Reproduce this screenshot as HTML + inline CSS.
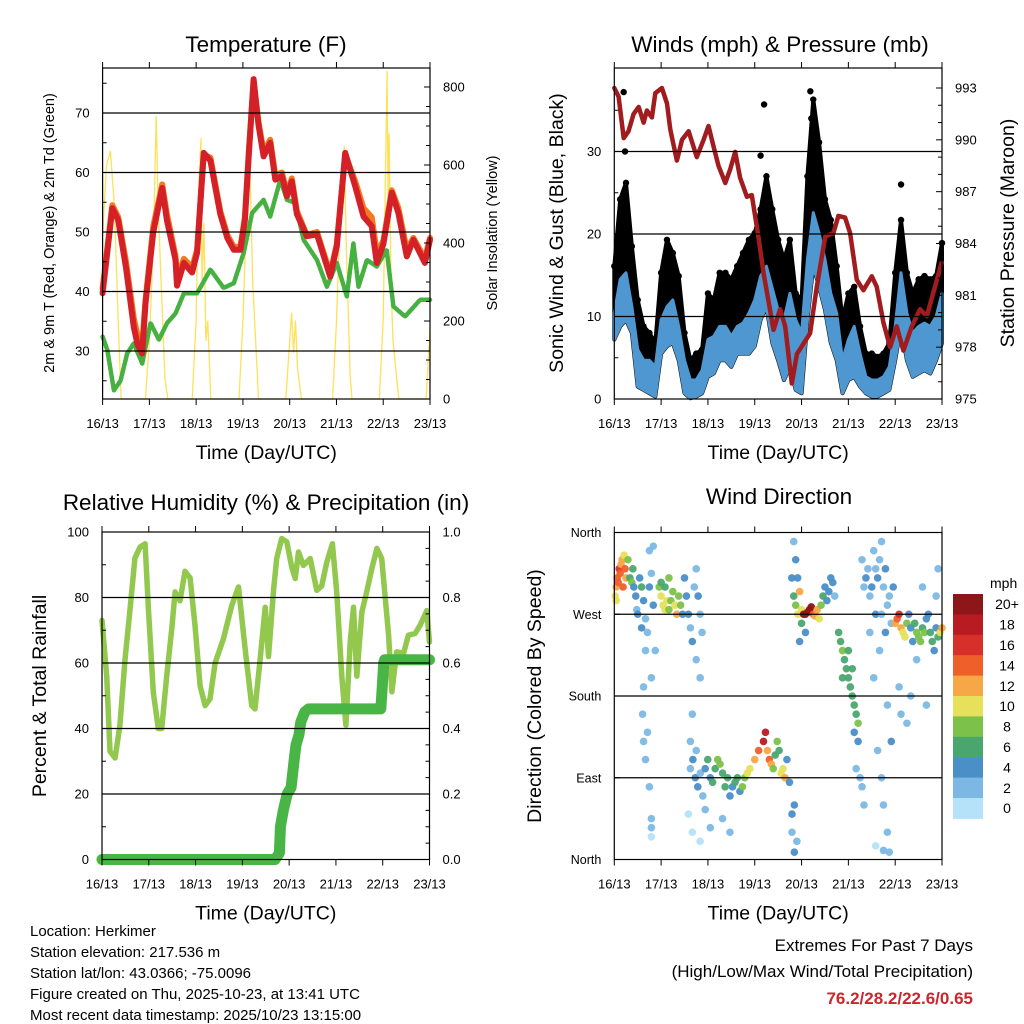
<!DOCTYPE html>
<html><head><meta charset="utf-8"><style>
html,body{margin:0;padding:0;background:#fff;}
svg{display:block;font-family:"Liberation Sans",Arial,sans-serif;}
</style></head><body>
<svg id="chart" width="1024" height="1024" viewBox="0 0 1024 1024">
<g id="marks"></g>
<g id="axes"></g>
<g font-size="15" fill="#000">
<text x="30" y="936">Location: Herkimer</text>
<text x="30" y="957">Station elevation: 217.536 m</text>
<text x="30" y="978">Station lat/lon: 43.0366; -75.0096</text>
<text x="30" y="999">Figure created on Thu, 2025-10-23, at 13:41 UTC</text>
<text x="30" y="1020">Most recent data timestamp: 2025/10/23 13:15:00</text>
</g>
<g text-anchor="end">
<text x="973" y="951" font-size="17">Extremes For Past 7 Days</text>
<text x="973" y="977" font-size="17">(High/Low/Max Wind/Total Precipitation)</text>
<text x="973" y="1004" font-size="17" font-weight="bold" fill="#c8282d">76.2/28.2/22.6/0.65</text>
</g>
</svg>
<script>
// ---------- DATA ----------
const dayLabels = ["16/13","17/13","18/13","19/13","20/13","21/13","22/13","23/13"];
const tempHours = [0,5,8,12,16,18,20.3,22,26,30.6,33,37.4,38.2,41.7,45.9,48.5,51.9,55.3,60.4,64,67.3,70.7,73,75,77.5,80,82.6,86,88.6,92,94.6,97.1,99.7,104.8,110,116.8,120.2,124.5,129.6,133.9,138.1,140.7,144.1,148.4,151.8,156.1,159.5,165.4,168];
const temp2m = [39.7,54,52,44,34,31,29.6,38,50,57.4,52,45.3,41,44.8,43.2,46.5,63.3,62,53,49,47,47,52,63,75.7,68,62.7,65,58.8,59.4,56,58.5,53,49.3,49.6,42.5,47.6,63.3,57.7,52.6,51,44.8,48,56.6,53.2,45.9,48.7,44.8,48.7];
const temp9m = [40.5,54.5,52.5,45,35.5,32.5,31,38.5,51,58,53,46,42,45.5,44,47,63,62.5,53.5,49.5,47.5,47.5,52.5,63.5,75,68.5,63.5,65.5,59.5,60,56.5,59,53.5,49.5,50,43,48,63,58.5,54,52.5,46.5,48.5,57,54,47,49,45.5,49];
const dewHours = [0,2.4,5.8,9.2,12.6,16,20.3,24.6,28.9,33.1,37.4,41.7,48.5,55.3,62.1,67.3,72.4,76.7,82.6,86,91.2,94.6,98.9,103.1,110,115.1,120.2,125.3,128.7,131.3,135.6,140.7,145.8,149.2,155.2,162.9,168];
const dewPoint = [32.4,30.2,23.4,25,29.6,31.3,27.9,34.7,31.9,34.7,36.3,39.7,39.7,43.7,40.6,41.4,46.5,53.2,55.4,52.6,58.8,55.4,54.9,48.7,45.3,40.8,44.8,39.2,48.1,40.8,45.3,44.2,47,37.5,35.8,38.6,38.6];
const solarHours = [0,2,4,6,8,9.5,22,24,26,27.5,28.5,30,32,33.5,46,48,49,50.5,51,52,53,54,55.5,70,72,74,75.5,77,79,80,94,96,97,98,99,100,102,118,120,122,124,125,126.5,127,128,142,144,146,146.5,147,148,149,150,152,166,168];
const solarValues = [420,600,635,500,200,0,0,150,400,724,500,300,50,0,0,200,500,668,300,450,150,200,0,0,200,500,613,300,100,0,0,150,220,120,200,80,0,0,200,500,647,400,150,60,0,0,200,840,500,680,300,150,100,0,0,180];
const windHours = [0,3,6,9,12,15,18,21,24,27,30,33,36,39,42,45,48,51,54,57,60,63,66,69,72,75,78,81,84,87,90,93,96,99,102,105,108,111,114,117,120,123,126,129,132,135,138,141,144,147,150,153,156,159,162,165,168];
const gustMax = [16.1,24.2,26.2,18.5,12,8.8,8,6.8,15.3,19.3,17.7,14.9,8,4.7,5.5,6,12.8,12,15.3,15.3,14.5,16.1,17.7,19.3,20.1,23,27,23,19.3,16.9,19.3,12.8,12,27,36.3,31.1,24.2,21.7,16.1,9.6,12.8,13.6,8.8,5.5,5.5,5.1,5.5,6.8,15.3,21.7,15.3,12.8,14.5,14.9,14.5,14.9,18.9];
const windHi = [10.4,14.5,15.3,11.2,6,4.7,4.7,3.9,9.6,11.2,12,8.8,4.7,2.3,2.3,3.5,7.2,7.6,8.8,8.8,7.6,8.8,9.2,10.4,12,14.9,16.1,13.4,10.8,9.6,12.8,9.6,8,16.9,22.6,20.1,16.9,12.8,10.4,4.7,7.2,8.8,5.5,2.7,2.3,2.3,2.7,3.9,8.8,15.3,10.4,8,8.8,9.2,8.8,10,12.8];
const windLo = [7.2,8.8,9.6,8,1.5,1.1,0.7,0.3,5.5,6.4,6.8,4.7,0.7,0.1,0.3,0.7,2.7,3.1,4.7,4.7,3.9,5.5,5.5,5.5,6.4,9.6,11.2,6.8,4.7,2.3,3.9,1.1,0.7,9.6,16.1,13.6,10.8,6.8,4.7,0.7,2.3,2.7,1.5,0.7,0.3,0.3,0.7,1.1,4.7,8.8,4.7,2.7,3.1,3.5,3.1,4.7,6.8];
const gustOutHours = [4.8,5.5,76.8,75,100.5,101,147];
const gustOutValues = [37.2,30,35.7,29.5,37.3,34,26];
const presHours = [0,2.2,4.8,7.3,9.9,12.5,15,16.7,19.3,21,24.4,27,28.7,32.1,34.7,38.1,42.3,45.8,48.3,50.9,53.4,56.9,59.4,62,64.5,68,70.5,73.9,76.5,79,81.6,85,87.6,91,93.6,97,100.4,103.8,108.1,112.3,114.9,118.3,120.9,124.3,127.7,132,134.5,138,141.4,144.8,148.2,152.5,156.7,160.2,164.4,167.8];
const presValues = [993,992.5,990.1,990.5,991.5,991.9,991,991.7,991.3,992.7,993,992.1,990.6,988.8,990,990.5,989,990,990.8,989.6,988.5,987.5,988.3,989.3,987.8,986.7,986.8,984.4,982.3,980.7,979,980.2,979.2,975.9,977.6,978.2,978.8,981.5,984.4,984.6,985.6,985.5,984.6,981.9,981.3,982.1,981.5,979.4,978,979.2,977.8,979.2,980.2,979.8,981.5,982.9];
const rhHours = [0,2.4,4.1,6.7,9.2,11.8,14.4,16.9,19.5,22.1,23.8,26.3,28.9,30.6,33.2,35.8,37.5,40,42.6,45.2,47.7,50.3,52.9,55.4,58,62.3,66.6,70,73.4,76.8,78.5,81.1,83.7,85.4,87.9,89.6,92.2,94.8,97.3,99.1,100.8,103.3,106.8,110.2,112.7,115.3,118.2,120.4,123,125.1,127.3,129,130.7,133.3,135.8,138.4,141,143.5,147,148.7,151.2,154.7,157.2,160.6,163.2,166.6,168];
const rhValues = [73,56,33,31,41,61,76.6,92,95.4,96.4,76.6,51,40,40,56,70.5,81.7,79,88,86,71.5,53,47,49,60,67.4,77.6,83.2,64.4,47,46,61,77,62,81.7,91.9,98,97,89.3,85.8,93.9,89.8,91.9,82.2,83.5,90.8,96.4,81.7,56,41,66.4,77,56,75.6,81.7,88.8,95,91.9,68.5,51.2,63.4,63,68.5,69,71.5,76,66.4];
const precipHours = [0,88.8,91,91.5,93,95,97,98.5,99.5,101,102,104,106,143,143.5,144,144.5,145,168];
const precipValues = [0,0,0.02,0.1,0.15,0.2,0.22,0.3,0.35,0.38,0.42,0.45,0.46,0.46,0.5,0.55,0.6,0.61,0.61];
const dirHours = [0.5,1,1.5,2,2.5,3,3.5,4,5,5.5,6,4.5,1,7,8,9,9.5,
10,11,11.5,12,13,14,15,16,17,18,19,20,21,14,16,19,15,18,20,14.5,15,16,18,19,19,19,17,
23,24,25,26,27,28,29,30,31,32,33,26,28,24,34,35,
36,37,38,39,40,41,42,43,44,45,42,44,40,39,42,38,40,44,
39,40.3,41.5,42.8,44.1,45.4,46.6,47.9,49.2,50.4,51.7,53,54.2,55.5,56.8,58.1,59.3,60.6,61.9,63.1,64.4,65.7,66.9,68.2,69.5,72,74,76.5,77.5,78.5,79.5,80.5,81.5,82.5,83.5,84.5,85.5,86.5,87.5,88.5,89.8,91.1,92.3,91.1,93.6,92.3,46.6,49.2,55.5,59.3,
91,92,93,94,95,96,97,98,99,100,101,102,103,104,105,106,107,108,109,110,111,112,113,98,95,96,94,93,92,
115,116,117,118,119,120,121,122,123,124,125,117,120,122,123,125,124,126,127,128,
127,128,129,130,131,132,133,134,135,136,137,138,139,140,141,142,143,131,134,137,139,136,133,140,142,135,137,138,140,134,138,141,
144,145,146,147,148,149,150,151,152,153,154,155,156,157,158,159,160,161,162,163,164,165,166,167,168,165,155,152,147,150,160,166,146,158];
const dirDegrees = [290,300,310,305,320,315,325,330,335,320,310,300,285,330,310,305,320,
300,290,275,270,310,300,285,265,250,300,315,280,230,255,230,200,190,340,345,160,130,110,80,45,35,25,140,
300,290,280,275,285,275,285,295,280,270,290,300,310,305,280,270,
310,290,270,255,240,300,320,290,270,250,220,200,160,130,120,50,30,20,
100,110,90,80,95,70,100,110,90,85,100,110,105,95,80,90,70,80,85,90,75,80,90,95,100,110,120,130,140,120,110,105,100,115,130,120,95,100,90,110,85,50,60,30,20,8,55,35,45,30,
310,290,280,270,295,275,270,270,272,275,278,270,268,275,265,280,290,300,285,295,310,305,290,250,240,260,310,330,350,
250,240,230,220,210,200,190,180,170,160,150,200,230,210,140,130,100,90,80,60,
330,300,310,320,290,300,340,320,310,330,350,300,320,280,290,260,300,250,270,270,250,230,200,170,130,120,90,60,30,15,10,8,
260,265,270,255,250,245,260,270,255,240,260,250,245,240,255,250,265,270,250,240,230,255,245,250,255,290,220,180,160,150,170,320,190,300];
const dirSpeeds = [10,12,14,14,16,14,12,12,10,14,12,14,10,8,6,8,6,
4,4,2,4,4,6,4,2,2,4,2,4,2,4,2,2,2,2,2,2,2,2,2,2,2,0,2,
8,10,10,10,10,8,8,8,10,12,8,6,8,6,8,4,
4,4,4,2,4,2,2,4,2,2,2,2,2,2,2,0,0,0,
2,4,4,4,2,2,4,6,4,6,6,8,8,6,6,6,4,4,6,6,4,8,8,10,10,12,14,18,18,12,14,12,8,6,8,6,10,10,12,4,4,4,4,2,2,4,2,2,2,2,
4,6,8,10,12,10,20,20,20,20,20,14,12,12,10,8,6,4,4,4,4,4,2,4,4,6,4,4,2,
6,6,8,6,6,6,6,6,6,6,8,6,6,6,4,4,2,2,2,2,
2,2,4,2,2,4,2,2,4,2,2,2,4,2,2,2,4,2,4,2,4,2,2,2,4,2,2,2,2,0,2,2,
12,14,16,12,10,10,8,4,4,4,6,8,8,8,6,8,4,4,6,6,4,4,6,10,12,2,2,2,2,2,2,2,2,2];
const speedColors = ["#b5e2f8","#7cb8e3","#4a8fc8","#4aa66f","#7cc24a","#e6e05a","#f7a745","#ef5f2a","#d7302a","#b81b22","#8e1518"];
const speedLabels = ["0","2","4","6","8","10","12","14","16","18","20+"];

// ---------- HELPERS ----------
const NS = "http://www.w3.org/2000/svg";
const marks = document.getElementById("marks");
const axes = document.getElementById("axes");
function mk(tag, attrs, parent){
  const e = document.createElementNS(NS, tag);
  for (const k in attrs) e.setAttribute(k, attrs[k]);
  (parent || marks).appendChild(e);
  return e;
}
function xScale(L,R){ return h => L + h/168*(R-L); }
function linY(v0,y0,v1,y1){ return v => y0 + (v-v0)*(y1-y0)/(v1-v0); }
function pts(hs, vs, xs, ys){ return hs.map((h,i)=> xs(h).toFixed(1)+","+ys(vs[i]).toFixed(1)).join(" "); }

function drawFrame(name, L,R,T,B){
  const g = mk("g", {}, axes);
  
  
  const r = mk("rect", {x:L,y:T,width:R-L,height:B-T,fill:"none",stroke:"#000","stroke-width":1.2}, g);
  
  
  const xs = xScale(L,R);
  for (let d=0; d<dayLabels.length; d++){
    const x = xs(d*24);
    mk("line",{x1:x,y1:B,x2:x,y2:B+6,stroke:"#000","stroke-width":1}, g);
    mk("line",{x1:x,y1:T,x2:x,y2:T-6,stroke:"#000","stroke-width":1}, g);
    const t = mk("text",{x:x,y:B+29,"font-size":13,"text-anchor":"middle"}, g);
    
    
    t.textContent = dayLabels[d];
  }
  const xt = mk("text",{x:(L+R)/2,y:B+60,"font-size":19.5,"text-anchor":"middle"}, g);
  
  
  xt.textContent = "Time (Day/UTC)";
  return g;
}
function grid(L,R,y){ const l = mk("line",{x1:L,x2:R,y1:y,y2:y,stroke:"#000","stroke-width":1.2}, axes);
  
   }
function leftTicks(g,L,vals,ys,labels,minor,fs){
  vals.forEach((v,i)=>{
    mk("line",{x1:L,x2:L+6,y1:ys(v),y2:ys(v),stroke:"#000"}, g);
    const t = mk("text",{x:L-13,y:ys(v)+4.5,"font-size":fs||13,"text-anchor":"end"}, g);
    
    
    t.textContent = labels[i];
  });
  (minor||[]).forEach(v=> mk("line",{x1:L,x2:L+4,y1:ys(v),y2:ys(v),stroke:"#000"}, g));
}
function rightTicks(g,R,vals,ys,labels,minor){
  vals.forEach((v,i)=>{
    mk("line",{x1:R-6,x2:R,y1:ys(v),y2:ys(v),stroke:"#000"}, g);
    const t = mk("text",{x:R+13,y:ys(v)+4.5,"font-size":13,"text-anchor":"start"}, g);
    
    
    t.textContent = labels[i];
  });
  (minor||[]).forEach(v=> mk("line",{x1:R-4,x2:R,y1:ys(v),y2:ys(v),stroke:"#000"}, g));
}
function title(txt,x,y,name){ const t = mk("text",{x:x,y:y,"font-size":22.5,"text-anchor":"middle"}, axes);
  
  
  t.textContent = txt; }
function vtitle(txt,x,y,fs,name){ const t = mk("text",{x:x,y:y,"font-size":fs,"text-anchor":"middle",transform:"rotate(-90 "+x+" "+y+")"}, axes);
  
  
  t.textContent = txt; }
function polyline(p, color, w, name, extra){
  const e = mk("polyline", Object.assign({points:p, fill:"none", stroke:color, "stroke-width":w, "stroke-linejoin":"round","stroke-linecap":"round"}, extra||{}));
  
  
  return e;
}

// ---------- PANEL 1: TEMPERATURE ----------
(function(){
  const L=102.6,R=430,T=68,B=399;
  const xs = xScale(L,R), yT = linY(30,351,70,113), yS = linY(0,399,800,87);
  [30,40,50,60,70].forEach(v=>grid(L,R,yT(v)));
  polyline(pts(solarHours,solarValues,xs,yS),"#fde15a",1.3,"solar-insolation-line");
  polyline(pts(dewHours,dewPoint,xs,yT),"#46b040",4.5,"dewpoint-line",{"stroke-dasharray":"3 1.5"});
  polyline(pts(tempHours,temp9m,xs,yT),"#f47a20",6,"temp-9m-line");
  polyline(pts(tempHours,temp2m,xs,yT),"#d42027",6,"temp-2m-line");
  const g = drawFrame("temperature",L,R,T,B);
  leftTicks(g,L,[30,40,50,60,70],yT,["30","40","50","60","70"],[25,35,45,55,65,75]);
  rightTicks(g,R,[0,200,400,600,800],yS,["0","200","400","600","800"],[50,100,150,250,300,350,450,500,550,650,700,750]);
  title("Temperature (F)",266,52,"temperature-title");
  vtitle("2m & 9m T (Red, Orange) & 2m Td (Green)",54,233,14.5,"temperature-y-axis-title");
  vtitle("Solar Insolation (Yellow)",497,233,14.5,"solar-y-axis-title");
})();

// ---------- PANEL 2: WINDS & PRESSURE ----------
(function(){
  const L=614.3,R=942,T=68,B=399;
  const xs = xScale(L,R), yW = linY(0,399,30,151.5), yP = linY(975,399,993,88);
  [10,20,30].forEach(v=>grid(L,R,yW(v)));
  const top = windHours.map((h,i)=>xs(h).toFixed(1)+","+yW(gustMax[i]).toFixed(1));
  const bot = windHours.map((h,i)=>xs(h).toFixed(1)+","+yW(windLo[i]).toFixed(1)).reverse();
  const gb = mk("polygon",{points:top.concat(bot).join(" "),fill:"#000",stroke:"#000","stroke-width":4,"stroke-linejoin":"round"});
  
  
  windHours.forEach((h,i)=>{
    const c = mk("circle",{cx:xs(h),cy:yW(gustMax[i]),r:3.2,fill:"#000"});
    
    
  });
  gustOutHours.forEach((h,i)=>{
    const c = mk("circle",{cx:xs(h),cy:yW(gustOutValues[i]),r:3.2,fill:"#000"});
    
    
  });
  const btop = windHours.map((h,i)=>xs(h).toFixed(1)+","+yW(windHi[i]).toFixed(1));
  const bb = mk("polygon",{points:btop.concat(bot).join(" "),fill:"#4f97d0",stroke:"#4f97d0","stroke-width":3,"stroke-linejoin":"round"});
  
  
  polyline(pts(presHours,presValues,xs,yP),"#a01c1e",4.5,"pressure-line");
  const g = drawFrame("winds",L,R,T,B);
  leftTicks(g,L,[0,10,20,30],yW,["0","10","20","30"],[5,15,25,35]);
  rightTicks(g,R,[975,978,981,984,987,990,993],yP,["975","978","981","984","987","990","993"],[976,977,979,980,982,983,985,986,988,989,991,992]);
  title("Winds (mph) & Pressure (mb)",780,52,"winds-title");
  vtitle("Sonic Wind & Gust (Blue, Black)",563,233,19.5,"wind-y-axis-title");
  vtitle("Station Pressure (Maroon)",1014,233,19.5,"pressure-y-axis-title");
})();

// ---------- PANEL 3: RH & PRECIP ----------
(function(){
  const L=102,R=429.5,T=532,B=859.5;
  const xs = xScale(L,R), yR = linY(0,B,100,T), yPr = linY(0,B,1,T);
  [20,40,60,80].forEach(v=>grid(L,R,yR(v)));
  polyline(pts(rhHours,rhValues,xs,yR),"#92c84e",5.5,"relative-humidity-line");
  polyline(pts(precipHours,precipValues,xs,yPr),"#4ab547",11,"precipitation-line");
  const g = drawFrame("humidity",L,R,T,B);
  leftTicks(g,L,[0,20,40,60,80,100],yR,["0","20","40","60","80","100"],[10,30,50,70,90]);
  rightTicks(g,R,[0,0.2,0.4,0.6,0.8,1.0],yPr,["0.0","0.2","0.4","0.6","0.8","1.0"],[0.05,0.1,0.15,0.25,0.3,0.35,0.45,0.5,0.55,0.65,0.7,0.75,0.85,0.9,0.95]);
  title("Relative Humidity (%) & Precipitation (in)",266,510,"humidity-title");
  vtitle("Percent & Total Rainfall",46,696,19.5,"humidity-y-axis-title");
})();

// ---------- PANEL 4: WIND DIRECTION ----------
(function(){
  const L=614.3,R=942,T=532.5,B=859.5;
  const xs = xScale(L,R), yD = linY(0,B,360,T);
  [90,180,270].forEach(v=>grid(L,R,yD(v)));
  dirHours.forEach((h,i)=>{
    if (dirDegrees[i] === undefined) return;
    const bin = Math.min(10, Math.floor(dirSpeeds[i]/2));
    const c = mk("circle",{cx:xs(h),cy:yD(dirDegrees[i]),r:3.8,fill:speedColors[bin],"fill-opacity":0.95});
    
    
  });
  const g = drawFrame("direction",L,R,T,B);
  const dirLabels = ["North","East","South","West","North"];
  leftTicks(g,L,[0,90,180,270,360],yD,dirLabels,[],12.5);
  title("Wind Direction",779,504,"direction-title");
  vtitle("Direction (Colored By Speed)",541,696,19.5,"direction-y-axis-title");
  const cb = mk("g",{}, axes);
  
  
  const cbTop=594, cbH=20.4;
  const ut = mk("text",{x:990,y:588,"font-size":14,"text-anchor":"start"}, cb);
  
  
  ut.textContent = "mph";
  for (let k=10; k>=0; k--){
    const y = cbTop + (10-k)*cbH;
    const r = mk("rect",{x:953,y:y,width:30,height:cbH+0.5,fill:speedColors[k]}, cb);
    
    
    const t = mk("text",{x:1007,y:y+cbH/2+5,"font-size":14,"text-anchor":"middle"}, cb);
    
    
    t.textContent = speedLabels[k];
  }
})();
</script>
</body></html>
